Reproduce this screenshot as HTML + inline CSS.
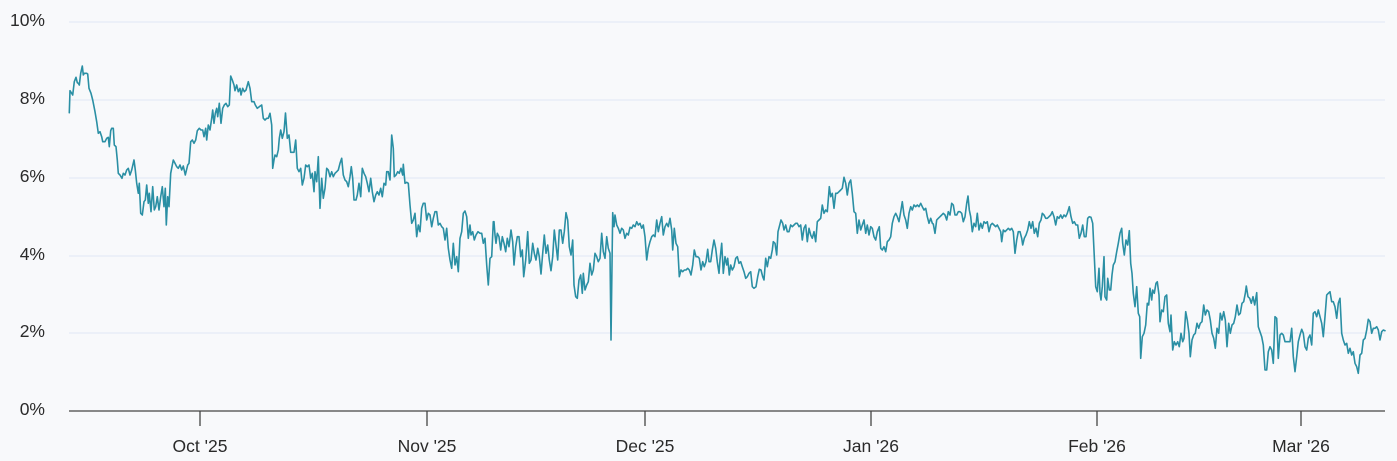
<!DOCTYPE html>
<html>
<head>
<meta charset="utf-8">
<style>
  html,body{margin:0;padding:0;background:#f8f9fb;}
  svg{display:block;}
  text{font-family:"Liberation Sans",sans-serif;font-size:17.5px;fill:#2a2a2a;}
</style>
</head>
<body>
<svg width="1397" height="461" viewBox="0 0 1397 461" xmlns="http://www.w3.org/2000/svg">
  <rect x="0" y="0" width="1397" height="461" fill="#f8f9fb"/>
  <g stroke="#e4ecf5" stroke-width="1.2">
    <line x1="69" y1="22" x2="1385" y2="22"/>
    <line x1="69" y1="100" x2="1385" y2="100"/>
    <line x1="69" y1="178" x2="1385" y2="178"/>
    <line x1="69" y1="256" x2="1385" y2="256"/>
    <line x1="69" y1="333" x2="1385" y2="333"/>
  </g>
  <g text-anchor="end">
    <text x="45" y="26">10%</text>
    <text x="45" y="104">8%</text>
    <text x="45" y="182">6%</text>
    <text x="45" y="260">4%</text>
    <text x="45" y="337">2%</text>
    <text x="45" y="415">0%</text>
  </g>
  <line x1="69" y1="411" x2="1385" y2="411" stroke="#444" stroke-width="1.3"/>
  <g stroke="#444" stroke-width="1.3">
    <line x1="200" y1="411" x2="200" y2="426"/>
    <line x1="427" y1="411" x2="427" y2="426"/>
    <line x1="645" y1="411" x2="645" y2="426"/>
    <line x1="871" y1="411" x2="871" y2="426"/>
    <line x1="1097" y1="411" x2="1097" y2="426"/>
    <line x1="1301" y1="411" x2="1301" y2="426"/>
  </g>
  <g text-anchor="middle">
    <text x="200" y="452">Oct '25</text>
    <text x="427" y="452">Nov '25</text>
    <text x="645" y="452">Dec '25</text>
    <text x="871" y="452">Jan '26</text>
    <text x="1097" y="452">Feb '26</text>
    <text x="1301" y="452">Mar '26</text>
  </g>
  <polyline fill="none" stroke="#2a8fa4" stroke-width="1.6" stroke-linejoin="round" stroke-linecap="round" points="
69.3,112.7 70,90.7 71.7,93.3 72.7,95 74.3,81.7 76,77.3 77.3,82.7 78.3,83.3 79.3,85 80.7,73.3 82.3,66 83.3,75 84.3,73.3 86.7,73.3 87.7,74 89,88.3 91,93.3 92.7,100 95,111.7 96.7,121.7 98.3,133.3 100,131.7 101.7,136.7 102.7,141.7 105,141.7 106.7,138.3 108.3,137.3 109.3,146.7 110.7,130.7 111.7,128.3 113.3,128.3 114.3,145 116,146.7 117.3,160 118.3,173.3 120,175 122,178.3 123.3,173.3 125,175 126.7,170 128.3,168.3 130,175 131.7,170 134,160 135.3,170 136.7,183.3 138.3,193.3 139.3,183.3 140.7,213.3 142.3,215 144,201.7 145.3,200 146.7,185 148.3,203.3 149.3,193.3 151,211.7 152.7,186.7 154.3,210 155.7,206.7 157.3,196.7 159,210 160.7,196.7 162.3,186.7 164,206.7 165.3,188.3 166.3,225 167.7,196.7 169,206.7 170.7,173.3 173.3,160 175,163.3 176.7,166.7 178.3,168.3 180,165 181.7,170 183.3,166 185.3,175 187.7,165 189,163.3 190.7,141.7 192.3,140 194,143.3 195.7,140 197.3,130.7 199.3,128.3 201,130 202.7,130 204,136.7 205.7,128.3 206.7,140 208.3,125 210,130 211.7,118.3 212.7,110 214,123.3 215.3,113.3 216.7,108.3 217.7,116.7 219.3,103.3 221,123.3 222.7,108.3 224.3,105 226,103.3 227.7,106.7 229.3,105 230.7,76 232.3,80 234,85 235,90.7 236.7,85 238.3,91.7 240,88.3 241,95 242.7,88.3 244.3,91.7 246,90 248.3,81.7 250,88.3 251.7,101.7 254,101.7 255.3,105 257.3,108.3 259.3,106.7 261.7,105 263.3,118.3 265,120 266.7,118.3 268.3,118.3 270,113.3 271.7,125 272.7,168.3 274,160 275,155 276.7,156.7 278.3,150 279.3,138.3 280.7,130 282.3,138.3 284,131.7 285.5,113 287.3,138.3 289,135 290.7,152.3 292.7,152.3 294,152.3 295.7,140 297.3,168.3 299,171.7 300.7,168.3 302.3,185 304,178.3 305.7,165 307.3,166.7 309,165 310.7,178.3 312.3,173.3 314,191.7 315,171.7 316.7,181.7 318.3,156.7 320,208.3 321.7,178.3 323.3,198.3 325,188.3 326.7,168.3 328.3,170 330,176.7 331.7,171.7 333.3,176.7 335,173.3 336.7,171.7 338.3,170 340,163.3 341.7,158.3 343.3,175 345,180 346.7,181.7 348.3,186.7 350,176.7 351.3,166.7 352.7,178.3 354,200 356,200 357.3,195 359,183.3 360.7,196.7 362.3,168.3 364,173.3 365.7,176.7 367.3,183.3 369,191.7 370.7,178.3 372.3,191.7 374,201.7 375.7,195 377.3,191.7 379,195 380.7,188.3 382.3,196.7 384,183.3 385.7,185 386.7,171.7 388.3,171.7 390,180 391.7,135 393.3,148.3 394.3,176.7 396,175 397.7,171.7 399.3,173.3 401,168.3 402.7,175 403.3,164.3 405,183.3 406.7,182.3 408.3,183.3 410,205 411.7,223.3 413.3,220 415,213.3 416.7,236.7 418.3,225 420,231.7 421.7,208.3 423.3,203.3 425,203.3 426.7,220 428.3,213.3 430,215 431.7,226.7 433.3,218.3 435,211.7 436.7,211.7 438.3,225 440,223.3 441.7,226.7 443.3,228.3 445,240 446.7,228.3 448.3,248.3 450,260 451.7,268.3 453.3,243.3 455,265 456.7,256.7 458.3,271.7 460,238.3 461.7,231.7 463.3,213.3 465,211 466.7,216.7 468.3,238.3 470,225 471,235 472.7,231.7 474.3,240 476,235 478,231.7 480,233.3 481.7,233.3 483.3,243.3 485,238.3 486.7,265 488.3,285 490,258.3 491.7,256.7 493.3,221.7 494,221.7 495,235 496,243.3 497.3,233.3 499,236.7 500.7,250 502.3,236.7 504,243.3 505.7,251.7 507.3,238.3 509,246.7 511,230 512.7,241.7 514,265 515.7,246.7 517.3,236.7 519,236.7 520.7,256.7 522.3,250 523.7,276.7 525.7,260 527.7,231.7 529.3,263.3 531,260 532.7,243.3 534.3,253.3 536,260 537.7,248.3 539.3,256.7 541,274 542.7,253.3 544.3,235 546,253.3 547.7,245 549.3,260 551,270.7 552.7,256.7 554.3,230 556,245 557.7,260 559.3,230 561,230 562.7,243.3 564.3,231.7 566,212.7 567.7,220 569.3,246.7 571,255 572.7,240 574,285 575.7,296.7 577.3,298.3 579,280 580.7,275 582.3,293.3 583.3,273.3 585,290 586.7,285 588.3,281.7 590,263.3 591.7,275 593.3,270 595,253.3 596.7,256.7 598.3,261.7 600,258.3 601.7,233.3 603.3,251.7 605,258.3 606.7,236.7 608.3,248.3 610,253.3 611,340 612.7,212.7 614,226.7 615,215 616.7,225 618.3,228.3 620,233.3 621.7,228.3 623.3,230 625,238.3 626.7,233.3 628.3,235 630,227.3 631.7,228.3 633.3,225 635,226.7 636.7,221.7 638.3,225 640,223.3 641.7,228.3 643.3,225 645,236.7 646.7,260 648.3,248.3 650,241.7 651.7,236.7 653.3,235 655,236.7 656.7,220 658.3,231.7 660,223.3 661.7,216.7 663.3,235 665,226.7 666.7,223.3 668.3,226.7 670,218.3 671.7,230 672.7,250 674.3,228.3 676,243.3 677.7,246.7 679.3,276.7 681,270 682.7,271.7 684.3,270 686,270 687.7,268.3 689.3,270 691,275 692.7,265 694.3,250 696,256.7 697.7,256.7 699.3,258.3 701,270 702.7,261.7 704.3,266.7 706,261.7 707.7,249.3 709,261.7 710.7,261.7 712.3,250 714,240 715.7,248.3 717.3,262 719,273.3 720,260 721.7,243.3 723.3,273.3 725,256.7 726.7,265 727.7,258.3 729.3,275 730.7,265 732.3,270 734,266.7 735.7,258.3 737.3,256.7 739,263.3 740.7,261.7 742.3,266.7 744,271.7 745.7,278.3 747.3,276.7 749,273.3 750.7,271.7 752.3,286.7 754,288.3 756,286.7 757.7,276.7 759.3,269.3 761,270 762.7,276.7 764,280 765.7,258.3 767.3,266.7 769,256.7 770.7,258.3 772.3,250 773.3,241.7 775,243.3 776.7,255 778,231.7 779.3,226.7 781,220 782.7,223.3 784,230 785.7,225 787.3,231.7 789,231.7 790.7,225 792.3,226.7 794,225 795.7,223.3 797.3,223.3 799,226.7 800.7,225 802.3,240 804,228.3 805.7,225 807.3,241.7 809,228.3 810.7,235 812.3,238.3 814,231.7 815.7,241.7 817.3,221.7 819,220 820.7,218.3 822.3,205 824,213.3 825.7,210 827.3,211.7 829.3,186.7 830.7,196.7 832.3,193.3 834,208.3 835.7,193.3 837.3,193.3 839,191.7 840.7,190 842.3,188.3 844,177.3 845.7,183.3 847.3,195 849,183.3 850.7,180 852.3,193.3 854,211.7 855.7,213.3 857.3,233.3 859,220 860.7,230 862.3,225 864,220 865.7,233.3 867.3,225 869,235 870.7,226.7 872.3,228.3 874,236.7 875.7,240 877.3,231.7 879.3,226.7 880.7,248.3 882.3,250 884,246.7 885.7,251.7 887.3,241.7 889,240 890.7,236.7 892.3,223.3 894,216.7 895.7,213.3 897.3,216.7 899,221.7 900.7,211.7 902.3,201.7 904,215 905.7,220 907.3,228.3 909,213.3 910.7,206.7 912.3,210 914,205 915.7,206.7 917.3,205 919,206.7 920.7,203.3 922.3,206.7 924,210 925.7,208.3 927.3,216.7 929,223.3 930.7,218.3 932.3,223.3 933.3,224 935,233.3 936.7,220 938.3,218.3 940,216.7 941.7,215 943.3,213.3 945,215 946.7,220 948.3,211.7 950,215 951.7,203.3 953.3,205 955,215 956.7,215 958.3,211.7 960,211.7 961.7,213.3 963.3,221.7 965,216.7 966.7,203.3 968,196 969.3,210 970.7,216.7 972.3,231.7 974,223.3 975.7,226.7 977.3,213.3 979,230 980.7,223.3 982.3,228.3 984,221.7 985.7,223.3 987.3,221.7 989,231.7 990.7,225 992.3,223.3 994,225 995.7,226.7 997.3,225 999,228.3 1000.7,231.7 1001.7,241.7 1003.3,230 1005,231.7 1006.7,230 1008.3,228.3 1010,230 1011.7,228.3 1013.3,231.7 1015,253.3 1016.7,240 1018.3,231.7 1020,231.7 1021.7,238.3 1022.7,245 1024.3,238.3 1026,235 1027.7,230 1029.3,221.7 1031,228.3 1032.7,221.7 1034.3,233.3 1036,228.3 1037.7,236.7 1039.3,223.3 1041,220 1042.3,213.3 1044,215 1045.7,218.3 1047.3,218.3 1049,216.7 1050.7,215 1052.3,211.7 1054,216.7 1055.7,225 1057.3,216.7 1059,218.3 1060.7,215 1062.3,218.3 1064,215 1065.7,216.7 1067.3,213.3 1069.3,206.7 1071,216.7 1072.7,223.3 1074.3,221.7 1076,225 1077.7,225 1079.3,238.3 1081,233.3 1082.7,225 1084.3,236.7 1086,236.7 1087.7,218.3 1089.3,216.7 1091,217.3 1092.7,223.3 1094.3,256.7 1095.7,286.7 1097.3,291.7 1099,268.3 1100,293.3 1101,300 1102.3,286.7 1104,256.7 1105,296.7 1106.7,300 1107.7,278.3 1109.3,290 1110.7,290 1112,275 1113.3,265 1115,261.7 1116.7,251.7 1118.3,243.3 1120,233.3 1121.7,228.3 1122.7,243.3 1124.3,255 1126,240 1127.7,245 1129.3,230.7 1130.7,263.3 1132,273.3 1133.3,293.3 1135,306.7 1136.7,286.7 1138.3,313.3 1139.7,316.7 1140.7,358.3 1142.3,336.7 1144,333.3 1145.7,325 1147.3,303.3 1148.7,305 1150,288.3 1151.7,300 1152.7,290 1154.3,293.3 1156,283.3 1157.3,281.7 1159,295 1160,321.7 1161.7,310 1163.3,311.7 1165,296.7 1166.7,295 1168.3,323.3 1170,331.7 1171,315 1172.7,350 1174.3,341.7 1176,345 1177.7,341.7 1179.3,346.7 1181,333.3 1182.7,341.7 1184,338.3 1185.7,311.7 1187.3,320 1189,333.3 1190.3,356.7 1192,340 1193.7,335 1195.3,333.3 1197,323.3 1198.7,328.3 1200.3,323.3 1202,321.7 1203.7,305 1205.3,315 1207,310 1208.7,311.7 1210.3,320 1212,333.3 1213.7,338.3 1215.3,348.3 1217,328.3 1218.7,333.3 1220.3,313.3 1222,320 1223.7,311.7 1225.3,320 1227,346.7 1228.7,323.3 1230.3,333.3 1232,325 1233.7,323.3 1235.3,316.7 1237,305 1238.7,315 1240.3,313.3 1242,303.3 1243.7,301.7 1245.3,293.3 1246.3,286 1248,296.7 1249.7,298.3 1251.3,303.3 1253,296.7 1254.7,305 1256.7,292.7 1258.3,326.7 1260,331.7 1261.7,336.7 1263.3,345 1265,370 1266.7,370 1268.3,351.7 1270,346.7 1271.7,350 1273.3,363.3 1275,316.7 1276.7,318.3 1278.3,358.3 1280,335 1281.7,333.3 1283.3,335 1285,341.7 1286.7,341.7 1288.3,341.7 1290,341.7 1291.7,328.3 1293.3,356.7 1295,371.7 1296.7,356.7 1298.3,341.7 1300,335 1301.7,329.3 1303.3,333.3 1305,346.7 1306.7,350 1308.3,338.3 1310,335 1311.7,345 1313.3,313.3 1315,311.7 1316.7,316.7 1318.3,310 1320,316.7 1321.7,323.3 1323.3,336.7 1325,316.7 1326.7,295 1328.3,293.3 1330,291.7 1331.7,301.7 1333.3,301.7 1335,306.7 1336.7,318.3 1338.3,303.3 1340,298.3 1341.7,333.3 1343.3,340 1345,345 1346.7,343.3 1348.3,353.3 1350,348.3 1351.7,355 1353.3,351.7 1355,363.3 1356.7,366.7 1358.3,373.3 1360,355 1361.7,353.3 1363.3,340 1365,338.3 1366.7,330 1368.3,319.3 1370,321.7 1371.7,333.3 1373.3,328.3 1375,328.3 1376.7,326.7 1378.3,330 1380,340 1381.7,331.7 1383.3,330 1385,330.7"/>
</svg>
</body>
</html>
